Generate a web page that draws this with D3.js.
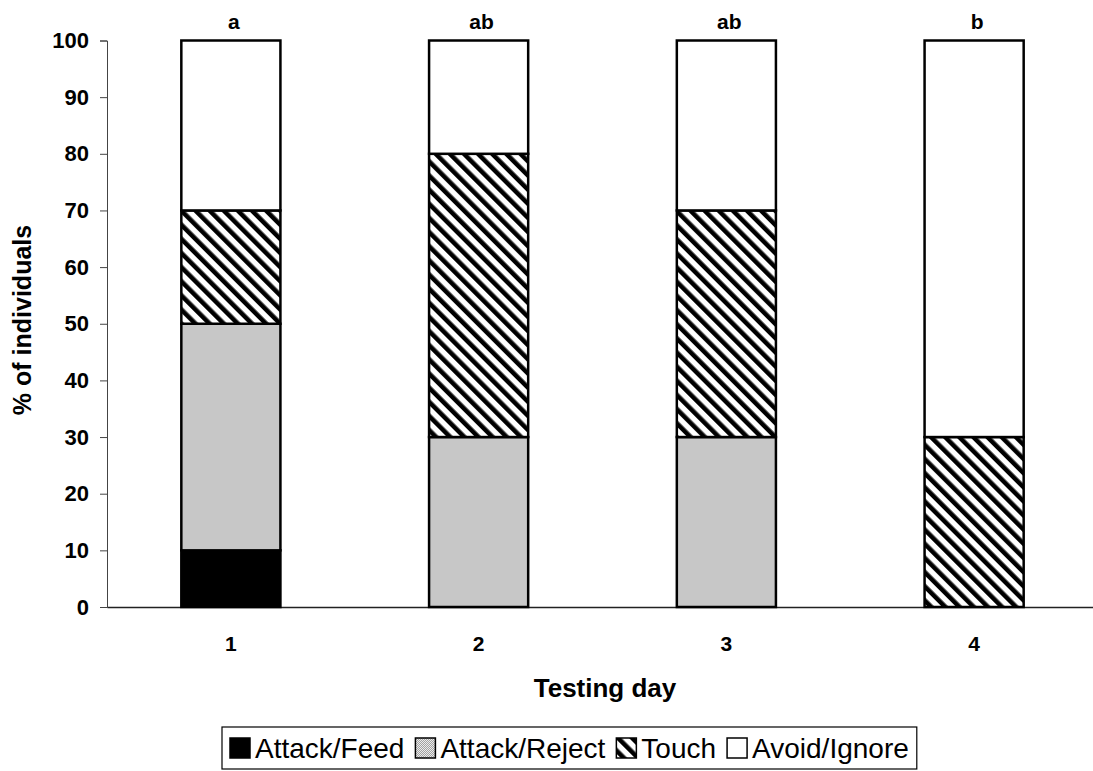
<!DOCTYPE html>
<html>
<head>
<meta charset="utf-8">
<script src="https://cdn.jsdelivr.net/npm/d3@7"></script>
<style>
  body { margin: 0; background: #fff; }
  svg { display: block; font-family: Arial, "Liberation Sans", sans-serif; }
</style>
</head>
<body>
<svg id="chart" width="1093" height="771"></svg>
<script>
// data
var days = ['1', '2', '3', '4'];
var categories = ['Attack/Feed', 'Attack/Reject', 'Touch', 'Avoid/Ignore'];
var attackFeed = [10, 0, 0, 0];
var attackReject = [40, 30, 30, 0];
var touch = [20, 50, 40, 30];
var avoidIgnore = [30, 20, 30, 70];
var sigLetters = ['a', 'ab', 'ab', 'b'];
var yTicks = [0, 10, 20, 30, 40, 50, 60, 70, 80, 90, 100];

var rows = days.map(function (d, i) {
  return {
    day: d,
    'Attack/Feed': attackFeed[i],
    'Attack/Reject': attackReject[i],
    'Touch': touch[i],
    'Avoid/Ignore': avoidIgnore[i]
  };
});

var svg = d3.select('#chart');
var margin = { top: 40.5, left: 107 };
var width = 991;          // band range, runs a little past the right edge like the original axis
var height = 566.5;

// fills: solid black, dithered grey, backslash hatch, white
var defs = svg.append('defs');
var dither = defs.append('pattern').attr('id', 'dither')
  .attr('patternUnits', 'userSpaceOnUse').attr('width', 2).attr('height', 2);
dither.append('rect').attr('width', 2).attr('height', 2).attr('fill', '#ececec');
dither.append('rect').attr('width', 1).attr('height', 1).attr('fill', '#a2a2a2');
dither.append('rect').attr('x', 1).attr('y', 1).attr('width', 1).attr('height', 1).attr('fill', '#a2a2a2');

var hatch = defs.append('pattern').attr('id', 'hatch')
  .attr('patternUnits', 'userSpaceOnUse').attr('width', 10).attr('height', 10)
  .attr('patternTransform', 'rotate(-45)');
hatch.append('rect').attr('width', 10).attr('height', 10).attr('fill', '#fff');
hatch.append('rect').attr('width', 4.6).attr('height', 10).attr('fill', '#000');

var fills = {
  'Attack/Feed': '#000',
  'Attack/Reject': 'url(#dither)',
  'Touch': 'url(#hatch)',
  'Avoid/Ignore': '#fff'
};

var x = d3.scaleBand().domain(days).range([0, width]).paddingInner(0.6).paddingOuter(0.3);
var y = d3.scaleLinear().domain([0, 100]).range([height, 0]);

var g = svg.append('g').attr('transform', 'translate(' + margin.left + ',' + margin.top + ')');

// axes
var yAxis = g.append('g').attr('class', 'y-axis')
  .call(d3.axisLeft(y).tickValues(yTicks).tickSize(7).tickPadding(11));
yAxis.select('.domain').attr('stroke', '#444').attr('stroke-width', 1);
yAxis.selectAll('.tick line').attr('stroke', '#444');
yAxis.selectAll('.tick text').attr('font-size', 22).attr('font-weight', 'bold')
  .attr('font-family', 'Arial, "Liberation Sans", sans-serif').attr('fill', '#000');

var xAxis = g.append('g').attr('class', 'x-axis')
  .attr('transform', 'translate(0,' + height + ')')
  .call(d3.axisBottom(x).tickSize(0).tickPadding(29));
xAxis.select('.domain').attr('stroke', '#222').attr('stroke-width', 1.5);
xAxis.selectAll('.tick text').attr('font-size', 21).attr('font-weight', 'bold')
  .attr('font-family', 'Arial, "Liberation Sans", sans-serif').attr('fill', '#000');

// stacked bars
var series = d3.stack().keys(categories)(rows);
g.selectAll('.layer').data(series).enter().append('g')
  .attr('class', 'layer')
  .selectAll('rect').data(function (s) {
    return s.map(function (d) { return { key: s.key, d: d }; })
      .filter(function (e) { return e.d[1] > e.d[0]; });
  })
  .enter().append('rect')
  .attr('x', function (e) { return x(e.d.data.day); })
  .attr('y', function (e) { return y(e.d[1]); })
  .attr('width', x.bandwidth())
  .attr('height', function (e) { return y(e.d[0]) - y(e.d[1]); })
  .attr('fill', function (e) { return fills[e.key]; })
  .attr('stroke', '#000')
  .attr('stroke-width', 2.5);

// significance letters
g.selectAll('.sig').data(sigLetters).enter().append('text')
  .attr('class', 'sig')
  .attr('x', function (d, i) { return x(days[i]) + x.bandwidth() / 2 + 3; })
  .attr('y', -12)
  .attr('text-anchor', 'middle')
  .attr('font-size', 21).attr('font-weight', 'bold')
  .text(function (d) { return d; });

// axis titles
svg.append('text')
  .attr('x', 605)
  .attr('y', 697)
  .attr('text-anchor', 'middle')
  .attr('font-size', 26).attr('font-weight', 'bold')
  .text('Testing day');

svg.append('text')
  .attr('transform', 'translate(31,' + 320 + ') rotate(-90)')
  .attr('text-anchor', 'middle')
  .attr('font-size', 25).attr('font-weight', 'bold')
  .text('% of individuals');

// legend
var legend = svg.append('g').attr('transform', 'translate(222,727)');
var legendBox = legend.append('rect')
  .attr('width', 690).attr('height', 42)
  .attr('fill', '#fff').attr('stroke', '#000').attr('stroke-width', 1.2);

var cx = 8;
categories.forEach(function (c) {
  legend.append('rect')
    .attr('x', cx).attr('y', 11).attr('width', 20).attr('height', 20)
    .attr('fill', fills[c]).attr('stroke', '#000').attr('stroke-width', 1.5);
  var t = legend.append('text')
    .attr('x', cx + 25).attr('y', 31)
    .attr('font-size', 28)
    .text(c);
  cx += 25 + t.node().getComputedTextLength() + 11;
});
legendBox.attr('width', cx - 3);
</script>
</body>
</html>
